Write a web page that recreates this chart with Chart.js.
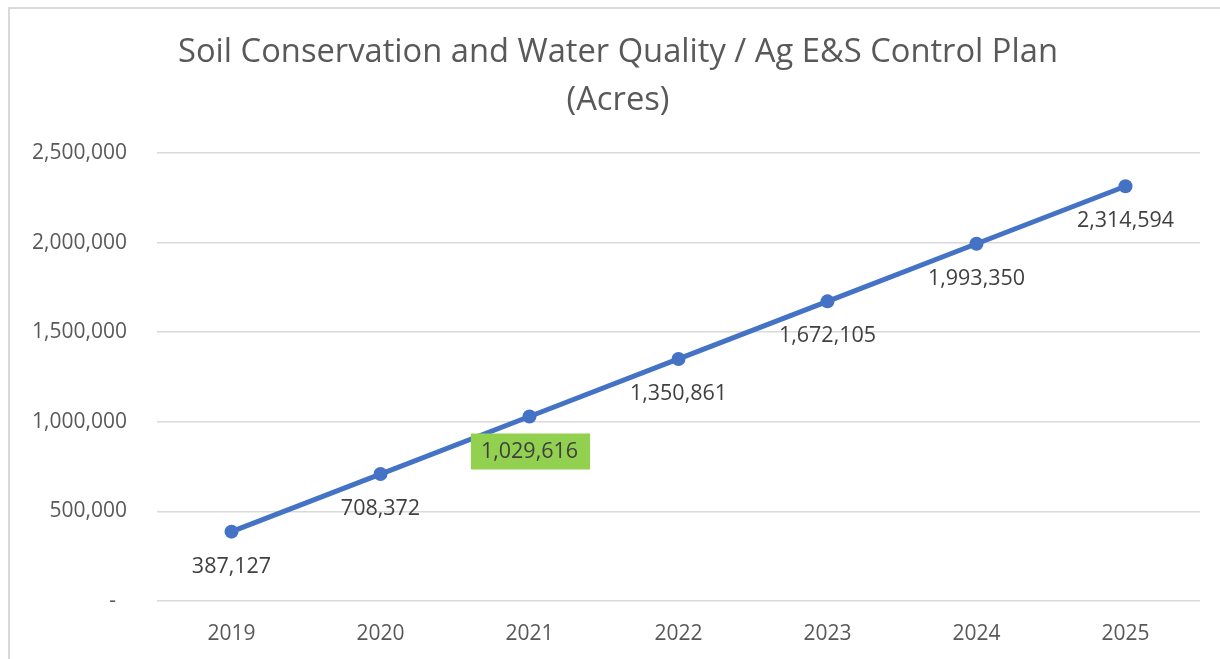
<!DOCTYPE html>
<html>
<head>
<meta charset="utf-8">
<script src="https://cdn.jsdelivr.net/npm/chart.js@4"></script>
<style>
  html, body { margin: 0; padding: 0; background: #fff; }
  #wrap { position: relative; width: 1220px; height: 659px; }
</style>
</head>
<body>
<div id="wrap"><canvas id="line-chart" width="1220" height="659"></canvas></div>
<script>
const years = ["2019", "2020", "2021", "2022", "2023", "2024", "2025"];
const acres = [387127, 708372, 1029616, 1350861, 1672105, 1993350, 2314594];
const tituloGrafica = ["Soil Conservation and Water Quality / Ag E&S Control Plan", "(Acres)"];
const puntoResaltado = 2; // etiqueta con fondo verde

const fuente = "'Open Sans', sans-serif";
const fmt = (v) => v.toLocaleString("en-US");

// marco gris del area del grafico
const marco = {
  id: "marco",
  beforeDraw(chart) {
    const ctx = chart.ctx;
    ctx.save();
    ctx.fillStyle = "#fff";
    ctx.fillRect(0, 0, chart.width, chart.height);
    ctx.strokeStyle = "#d9d9d9";
    ctx.lineWidth = 2;
    ctx.beginPath();
    ctx.moveTo(9, chart.height);
    ctx.lineTo(9, 8);
    ctx.lineTo(chart.width, 8);
    ctx.stroke();
    ctx.restore();
  },
};

// titulo centrado sobre todo el marco (no solo el area del chart)
const titulo = {
  id: "titulo",
  afterDraw(chart) {
    const ctx = chart.ctx;
    ctx.save();
    ctx.font = "32.7px " + fuente;
    ctx.fillStyle = "#595959";
    ctx.textAlign = "center";
    ctx.textBaseline = "middle";
    tituloGrafica.forEach((linea, i) => {
      ctx.fillText(linea, 618, 53 + i * 48);
    });
    ctx.restore();
  },
};

// etiquetas de datos debajo de cada punto
const etiquetas = {
  id: "etiquetas",
  afterDatasetsDraw(chart) {
    const ctx = chart.ctx;
    const meta = chart.getDatasetMeta(0);
    ctx.save();
    ctx.font = "21.5px " + fuente;
    ctx.textAlign = "center";
    ctx.textBaseline = "middle";
    meta.data.forEach((p, i) => {
      const texto = fmt(acres[i]);
      const y = p.y + 35;
      if (i === puntoResaltado) {
        const w = ctx.measureText(texto).width + 22;
        ctx.fillStyle = "#92d050";
        ctx.fillRect(p.x - w / 2 + 1, y - 18, w, 36);
      }
      ctx.fillStyle = "#404040";
      ctx.fillText(texto, p.x, y);
    });
    ctx.restore();
  },
};

const linear = document.getElementById("line-chart");
new Chart(linear, {
  type: "line",
  data: {
    labels: years,
    datasets: [
      {
        label: "Acres",
        data: acres,
        borderColor: "#4472c4",
        backgroundColor: "#4472c4",
        borderWidth: 5,
        pointRadius: 7,
        pointBorderWidth: 0,
        tension: 0,
      },
    ],
  },
  options: {
    responsive: false,
    animation: false,
    layout: { padding: { left: 10, right: 20, top: 153, bottom: 14 } },
    plugins: {
      legend: { display: false },
      tooltip: { enabled: false },
      title: { display: false },
    },
    scales: {
      x: {
        offset: true,
        afterFit(scale) { scale.height = 44; },
        grid: { display: false, drawTicks: false },
        border: { display: false },
        ticks: { color: "#595959", font: { family: fuente, size: 21 }, padding: 20 },
      },
      y: {
        min: 0,
        max: 2500000,
        afterFit(scale) { scale.width = 147; },
        grid: { color: "#d9d9d9", lineWidth: 1.5, drawTicks: false },
        border: { display: false },
        ticks: {
          stepSize: 500000,
          color: "#595959",
          font: { family: fuente, size: 21 },
          padding: 30,
          callback: (v) => (v === 0 ? "-  " : fmt(v)),
        },
      },
    },
  },
  plugins: [marco, etiquetas, titulo],
});
</script>
</body>
</html>
